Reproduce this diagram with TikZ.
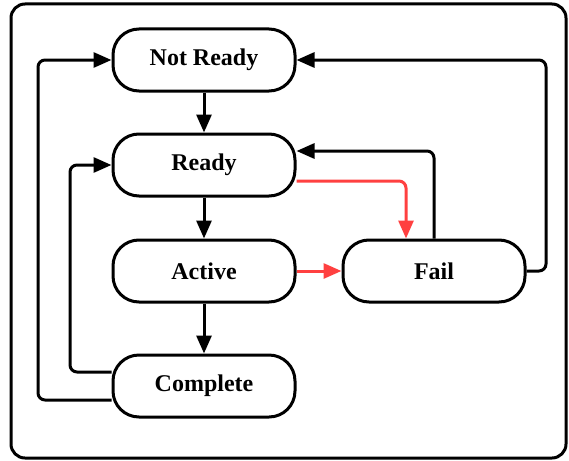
\documentclass[tikz,border=0pt]{standalone}
\usepackage{fontspec}
\setmainfont{Liberation Serif}
\usetikzlibrary{arrows.meta}
\definecolor{lred}{RGB}{255,64,64}
\tikzset{
  state/.style={draw=black, line width=3pt, rounded corners=26pt, minimum width=182pt, minimum height=62pt,
    inner sep=0pt, font=\fontsize{24}{28}\selectfont\bfseries, fill=white},
  arr/.style={draw=black, line width=3pt, rounded corners=7pt, -{Triangle[length=18pt,width=15pt]}},
  redarr/.style={draw=lred, line width=3pt, rounded corners=7pt, -{Triangle[length=18pt,width=15pt]}},
  frame/.style={draw=black, line width=3pt, rounded corners=14pt}
}
\begin{document}
\begin{tikzpicture}[x=1pt,y=-1pt]
\useasboundingbox (0,0) rectangle (569,460);
\node[frame, minimum width=555pt, minimum height=454pt, inner sep=0pt] (fr) at (288.5,231) {};
\node[state] (nr) at (204,60) {Not Ready};
\node[state] (rd) at (204,165) {Ready};
\node[state] (ac) at (204,271) {Active};
\node[state] (fl) at (434,271) {Fail};
\node[state] (cp) at (204,386) {Complete};
\coordinate (r1) at (546,60);
\coordinate (l1) at (38,60);
\coordinate (l2) at (70,165);
\draw[arr] (nr) -- (rd);
\draw[arr] (rd) -- (ac);
\draw[arr] (ac) -- (cp);
\draw[redarr] (ac.east) -- (fl.west);
\draw[redarr] ([yshift=-16pt]rd.east) -| ([xshift=-28pt]fl.north);
\draw[arr] (fl.north) |- ([yshift=14pt]rd.east);
\draw[arr] (fl.east) -| (r1) -- (nr.east);
\draw[arr] ([yshift=-14pt]cp.west) -| (l1) -- (nr.west);
\draw[arr] ([yshift=14pt]cp.west) -| (l2) -- (rd.west);
\end{tikzpicture}
\end{document}
